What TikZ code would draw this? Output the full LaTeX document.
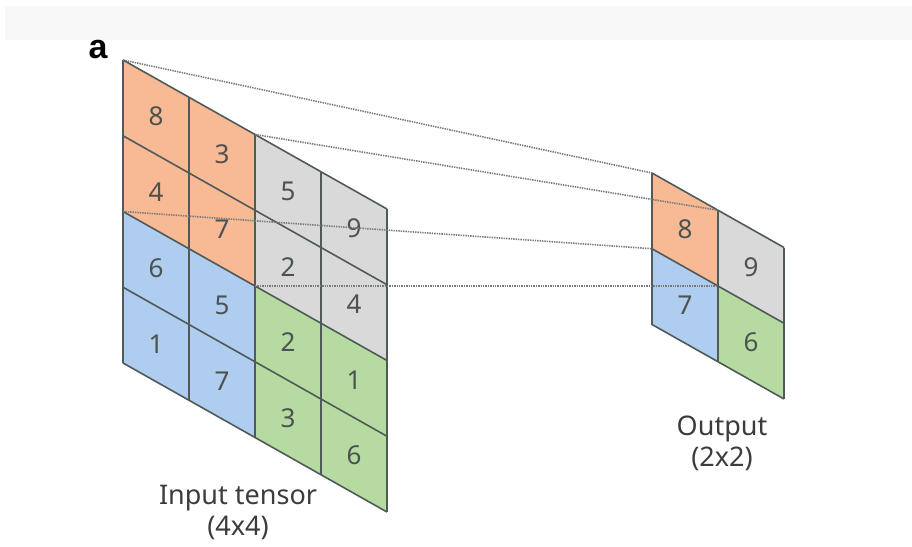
\documentclass[tikz,border=0pt]{standalone}
\usepackage{fontspec}
\setmainfont{Noto Sans}
\newfontfamily\tagfont{Liberation Sans}
\usetikzlibrary{positioning}

\definecolor{cellorange}{HTML}{F8BA94}
\definecolor{cellgray}{HTML}{D9D9D9}
\definecolor{cellblue}{HTML}{AECDEF}
\definecolor{cellgreen}{HTML}{B6DBA0}
\definecolor{gridline}{HTML}{4F5A59}
\definecolor{guideline}{HTML}{7A7A7A}
\definecolor{numtext}{HTML}{4C5252}
\definecolor{captext}{HTML}{3C3C3C}
\definecolor{band}{HTML}{F8F8F8}

\begin{document}
\begin{tikzpicture}[
    x=1pt, y=-1pt,
    grid/.style={draw=gridline, line width=1.6pt, line join=round},
    num/.style={text=numtext, font=\fontsize{26}{26}\selectfont},
    guide/.style={draw=guideline, dash pattern=on 1.4pt off 1pt, line width=1.6pt},
    caption/.style={align=center, text=captext, font=\fontsize{27}{31}\selectfont}
  ]
    \useasboundingbox (0,0) rectangle (912,546);
    \fill[band] (5,6) rectangle (912,40);

    \node[font=\tagfont\bfseries\fontsize{34}{34}\selectfont] (tag) at (98,50) {a};

    % input tensor, 4x4
    \begin{scope}[shift={(123,60)}, x={(66pt,-37.25pt)}, y={(0pt,-75.75pt)}]
      \fill[cellorange] (0,0) -- (2,0) -- (2,2) -- (0,2) -- cycle;
      \fill[cellgray] (2,0) -- (4,0) -- (4,2) -- (2,2) -- cycle;
      \fill[cellblue] (0,2) -- (2,2) -- (2,4) -- (0,4) -- cycle;
      \fill[cellgreen] (2,2) -- (4,2) -- (4,4) -- (2,4) -- cycle;
      \foreach \i in {0,...,4} {
        \draw[grid] (\i,0) -- (\i,4);
        \draw[grid] (0,\i) -- (4,\i);
      }
      \node[num] (in11) at (0.5,0.5) {8}; \node[num] (in12) at (1.5,0.5) {3};
      \node[num] (in13) at (2.5,0.5) {5}; \node[num] (in14) at (3.5,0.5) {9};
      \node[num] (in21) at (0.5,1.5) {4}; \node[num] (in22) at (1.5,1.5) {7};
      \node[num] (in23) at (2.5,1.5) {2}; \node[num] (in24) at (3.5,1.5) {4};
      \node[num] (in31) at (0.5,2.5) {6}; \node[num] (in32) at (1.5,2.5) {5};
      \node[num] (in33) at (2.5,2.5) {2}; \node[num] (in34) at (3.5,2.5) {1};
      \node[num] (in41) at (0.5,3.5) {1}; \node[num] (in42) at (1.5,3.5) {7};
      \node[num] (in43) at (2.5,3.5) {3}; \node[num] (in44) at (3.5,3.5) {6};
      \coordinate (in-tl) at (0,0);
      \coordinate (in-tm) at (2,0);
      \coordinate (in-ml) at (0,2);
      \coordinate (in-c) at (2,2);
    \end{scope}

    % output, 2x2
    \begin{scope}[shift={(652,173)}, x={(66pt,-37.25pt)}, y={(0pt,-75.75pt)}]
      \fill[cellorange] (0,0) -- (1,0) -- (1,1) -- (0,1) -- cycle;
      \fill[cellgray] (1,0) -- (2,0) -- (2,1) -- (1,1) -- cycle;
      \fill[cellblue] (0,1) -- (1,1) -- (1,2) -- (0,2) -- cycle;
      \fill[cellgreen] (1,1) -- (2,1) -- (2,2) -- (1,2) -- cycle;
      \foreach \i in {0,...,2} {
        \draw[grid] (\i,0) -- (\i,2);
        \draw[grid] (0,\i) -- (2,\i);
      }
      \node[num] (out11) at (0.5,0.5) {8}; \node[num] (out12) at (1.5,0.5) {9};
      \node[num] (out21) at (0.5,1.5) {7}; \node[num] (out22) at (1.5,1.5) {6};
      \coordinate (out-tl) at (0,0);
      \coordinate (out-tm) at (1,0);
      \coordinate (out-ml) at (0,1);
      \coordinate (out-c) at (1,1);
    \end{scope}

    \draw[guide] (in-tl) -- (out-tl);
    \draw[guide] (in-tm) -- (out-tm);
    \draw[guide] (in-ml) -- (out-ml);
    \draw[guide] (in-c) -- (out-c);

    \node[caption] (inlabel) at (238,512) {Input tensor\\(4x4)};
    \node[caption] (outlabel) at (722,443) {Output\\(2x2)};
  \end{tikzpicture}
\end{document}
